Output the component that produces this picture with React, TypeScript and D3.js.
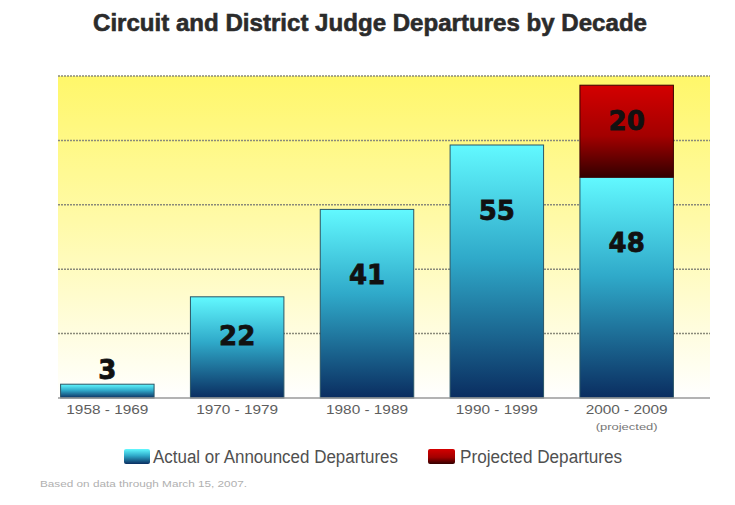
import React from "react";
import * as d3 from "d3";

const title = "Circuit and District Judge Departures by Decade";
const decades = ["1958 - 1969", "1970 - 1979", "1980 - 1989", "1990 - 1999", "2000 - 2009"];
const subLabels = ["", "", "", "", "(projected)"];
const actual = [3, 22, 41, 55, 48];
const projected = [0, 0, 0, 0, 20];
const gridTicks = [14, 28, 42, 56, 70];
const legendLabels = ["Actual or Announced Departures", "Projected Departures"];
const footnote = "Based on data through March 15, 2007.";

const W = 735;
const H = 505;
const plotLeft = 58;
const plotRight = 710;
const baseY = 398;
const topY = 76;

export default function App() {
  const x = d3.scaleBand<string>().domain(decades).range([plotLeft, 676]).paddingInner(0.28).paddingOuter(0.02);
  const y = d3.scaleLinear().domain([0, 70]).range([baseY, topY]);

  const labelFont = "'DejaVu Sans', Verdana, sans-serif";
  const sans = "'Liberation Sans', Arial, Helvetica, sans-serif";

  const segLabelY = (top: number, h: number) => top + Math.min(h * 0.39, 66) + 9;

  return (
    <svg width={W} height={H} style={{ position: "absolute", left: 0, top: 0, background: "#fff" }}>
      <defs>
        <linearGradient id="bg" x1="0" y1="0" x2="0" y2="1">
          <stop offset="0" stopColor="#fff76a" />
          <stop offset="0.45" stopColor="#fffaa8" />
          <stop offset="0.8" stopColor="#fffde0" />
          <stop offset="1" stopColor="#ffffff" />
        </linearGradient>
        <linearGradient id="cyan" x1="0" y1="0" x2="0" y2="1">
          <stop offset="0" stopColor="#62f9ff" />
          <stop offset="0.45" stopColor="#2fa9c9" />
          <stop offset="1" stopColor="#0a2d60" />
        </linearGradient>
        <linearGradient id="red" x1="0" y1="0" x2="0" y2="1">
          <stop offset="0" stopColor="#d40000" />
          <stop offset="0.55" stopColor="#a30000" />
          <stop offset="1" stopColor="#330000" />
        </linearGradient>
      </defs>

      <text x={370} y={31} textAnchor="middle" fontFamily="'Liberation Sans', Arial, sans-serif"
        fontWeight="bold" fontSize={24} fill="#2b2b2b" stroke="#2b2b2b" strokeWidth={0.6}
        textLength={554} lengthAdjust="spacingAndGlyphs">
        {title}
      </text>

      <rect x={plotLeft} y={topY} width={plotRight - plotLeft} height={baseY - topY} fill="url(#bg)" />

      {gridTicks.map((t) => (
        <line key={t} x1={plotLeft} x2={plotRight} y1={y(t)} y2={y(t)} stroke="#8a8a7a" strokeWidth={1.5} strokeDasharray="2,1" />
      ))}

      {decades.map((d, i) => {
        const bx = x(d)!;
        const bw = x.bandwidth();
        const aTop = y(actual[i]);
        const aH = baseY - aTop;
        const pTop = y(actual[i] + projected[i]);
        const pH = aTop - pTop;
        return (
          <g key={d}>
            <rect x={bx} y={aTop} width={bw} height={aH} fill="url(#cyan)" stroke="#2a5566" strokeWidth={1} />
            {projected[i] > 0 && (
              <rect x={bx} y={pTop} width={bw} height={pH} fill="url(#red)" stroke="#3a0000" strokeWidth={1} />
            )}
            <text x={bx + bw / 2} y={aH < 40 ? aTop - 5 : segLabelY(aTop, aH)} textAnchor="middle"
              fontFamily={labelFont} fontWeight="bold" fontSize={26} fill="#111" stroke="#111" strokeWidth={0.8}>
              {actual[i]}
            </text>
            {projected[i] > 0 && (
              <text x={bx + bw / 2} y={segLabelY(pTop, pH)} textAnchor="middle"
                fontFamily={labelFont} fontWeight="bold" fontSize={26} fill="#111" stroke="#111" strokeWidth={0.8}>
                {projected[i]}
              </text>
            )}
            <text x={bx + bw / 2} y={414} textAnchor="middle" fontFamily={sans} fontSize={12} fill="#5e5e5e"
              textLength={82} lengthAdjust="spacingAndGlyphs">
              {d}
            </text>
            {subLabels[i] && (
              <text x={bx + bw / 2} y={430} textAnchor="middle" fontFamily={sans} fontSize={9} fill="#777"
                textLength={62} lengthAdjust="spacingAndGlyphs">
                {subLabels[i]}
              </text>
            )}
          </g>
        );
      })}

      <line x1={plotLeft} x2={plotRight} y1={baseY} y2={baseY} stroke="#9a9a9a" strokeWidth={1.5} />

      <rect x={124} y={449} width={26} height={15} rx={2} fill="url(#cyan)" />
      <text x={153} y={463} fontFamily={sans} fontSize={18} fill="#505050" textLength={245} lengthAdjust="spacingAndGlyphs">
        {legendLabels[0]}
      </text>
      <rect x={428} y={449} width={27} height={15} rx={2} fill="url(#red)" />
      <text x={460} y={463} fontFamily={sans} fontSize={18} fill="#505050" textLength={162} lengthAdjust="spacingAndGlyphs">
        {legendLabels[1]}
      </text>

      <text x={40} y={487} fontFamily={sans} fontSize={9.5} fill="#b0b0b0" textLength={207} lengthAdjust="spacingAndGlyphs">
        {footnote}
      </text>
    </svg>
  );
}
